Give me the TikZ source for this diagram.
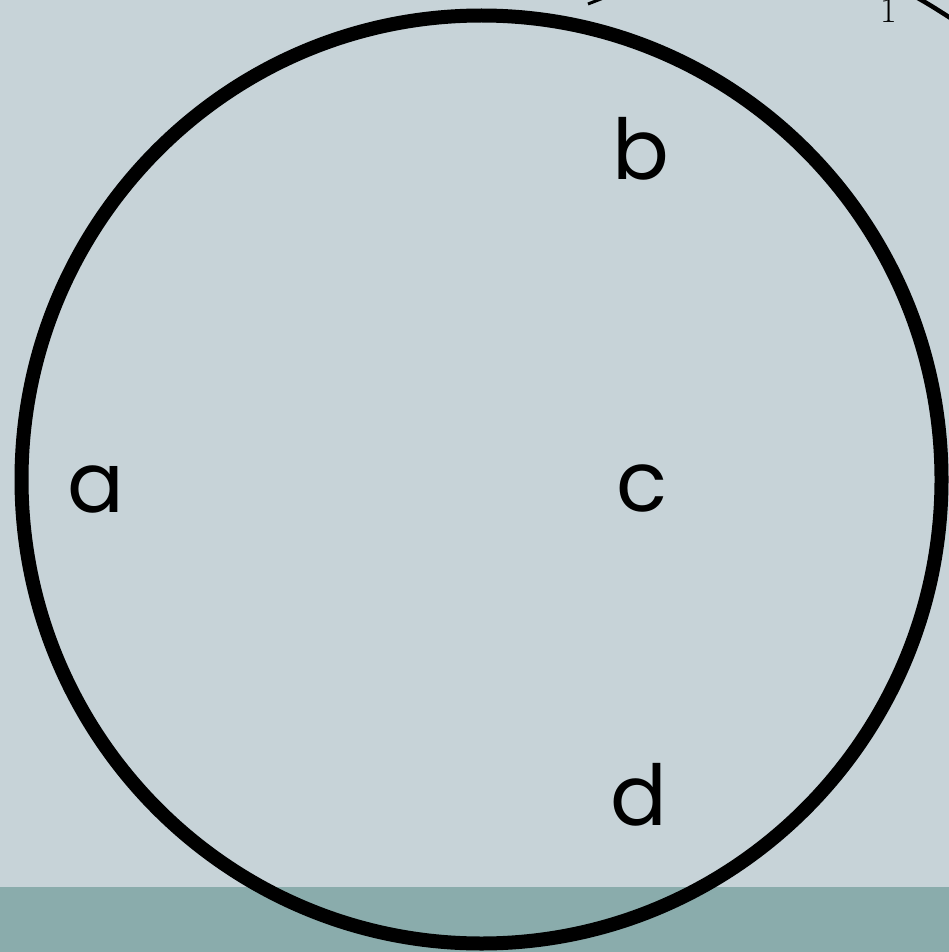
\documentclass[tikz,border=0pt]{standalone}
\usepackage{fontspec}
\usetikzlibrary{shapes.geometric}
\setmainfont{Poppins}
\newfontfamily\numfont{Latin Modern Roman}
\definecolor{bgcol}{RGB}{199,211,216}
\definecolor{bandcol}{RGB}{138,172,172}
\tikzset{
  letter/.style={anchor=base, inner sep=0pt, font=\fontsize{84}{84}\selectfont},
  ring/.style={draw=black, line width=14pt},
}
\begin{document}
\begin{tikzpicture}[x=1pt,y=-1pt]
\useasboundingbox (0,0) rectangle (949,952);
\begin{scope}
\clip (0,0) rectangle (949,952);
\fill[bgcol] (0,0) rectangle (949,952);
\fill[bandcol] (0,887) rectangle (949,952);
\node[ring, ellipse, minimum width=920pt, minimum height=928pt, inner sep=0pt] (circ) at (481.5,479.5) {};
\node[letter] (a) at (96,512) {a};
\node[letter] (b) at (641,179) {b};
\node[letter] (c) at (642,511) {c};
\node[letter] (d) at (639,825) {d};
\node[anchor=base, inner sep=0pt, font=\numfont\fontsize{36}{36}\selectfont] (one) at (889,23) {1};
\coordinate (t1) at (588,4);
\coordinate (t2) at (606,-3);
\draw[line width=3pt] (t1) -- (t2);
\coordinate (r1) at (916,-3);
\coordinate (r2) at (952,19);
\draw[line width=4.5pt] (r1) .. controls (930,5) .. (r2);
\end{scope}
\end{tikzpicture}
\end{document}
